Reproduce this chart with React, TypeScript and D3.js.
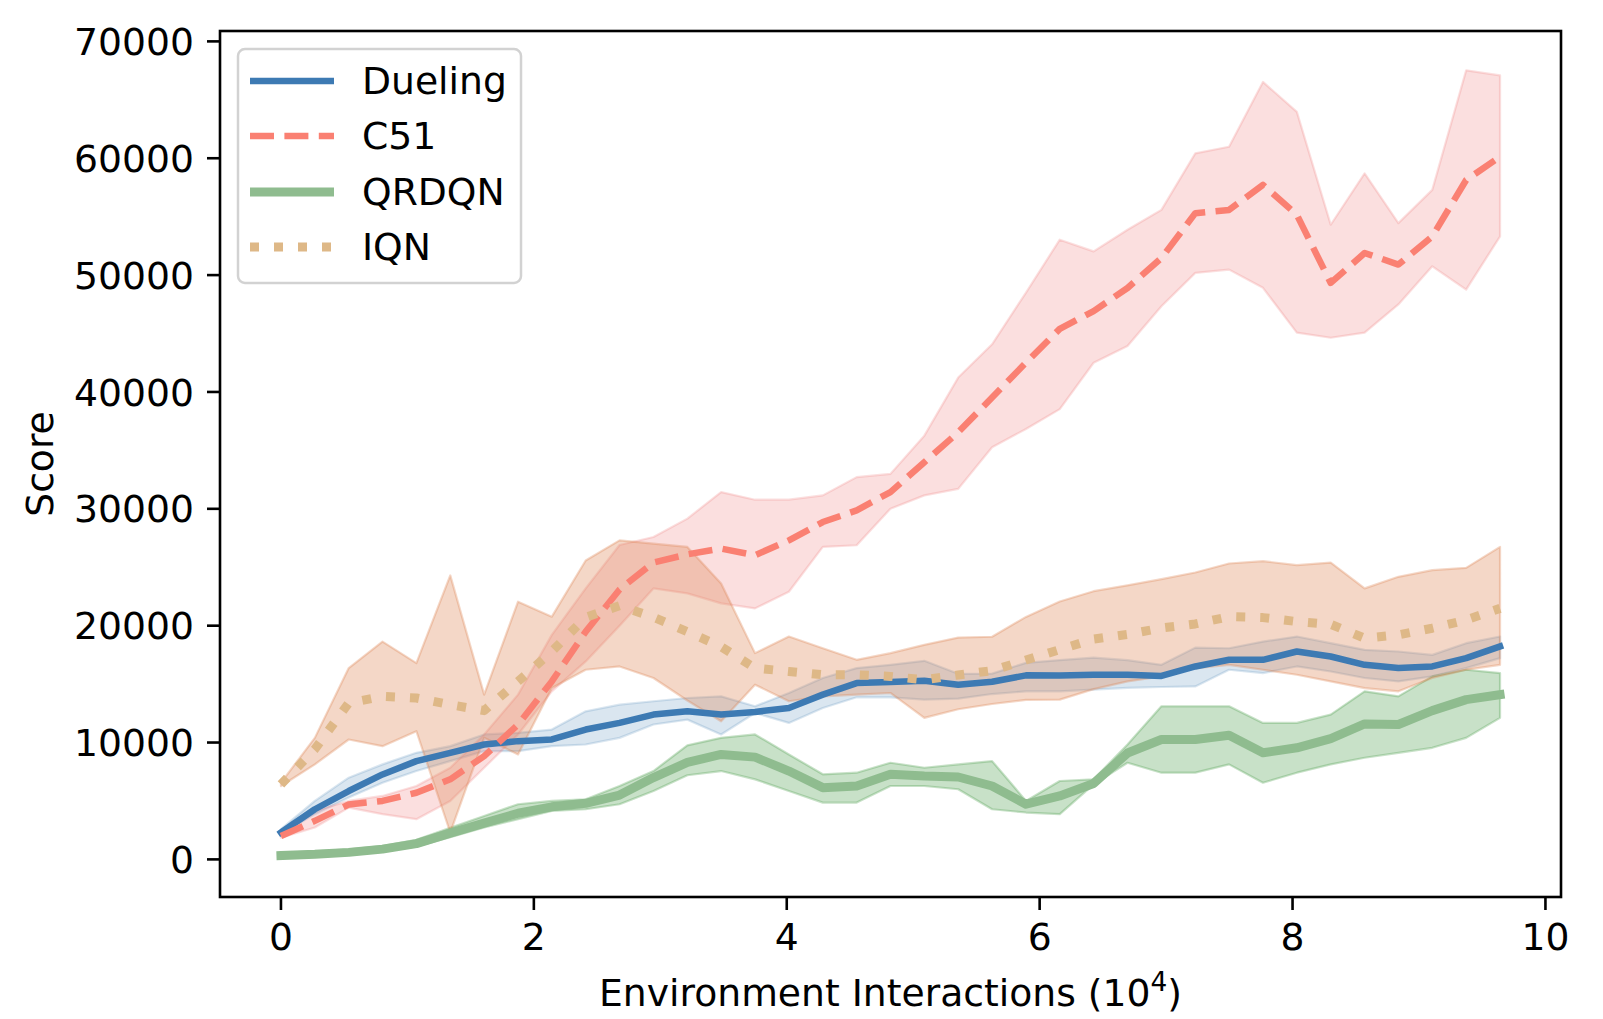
import React from "react";
import * as d3 from "d3";

// environment interactions, in units of 10^4
const steps = [
  0, 0.268, 0.536, 0.803, 1.071, 1.339, 1.607, 1.875, 2.142, 2.41, 2.678, 2.946, 3.214,
  3.481, 3.749, 4.017, 4.285, 4.553, 4.82, 5.088, 5.356, 5.624, 5.892, 6.159, 6.427,
  6.695, 6.963, 7.231, 7.498, 7.766, 8.034, 8.302, 8.57, 8.837, 9.105, 9.373, 9.641,
];

const duelingMean = [
  2300, 4290, 5850, 7270, 8410, 9120, 9830, 10120, 10260, 11110, 11680, 12390, 12670,
  12390, 12620, 12960, 14100, 15090, 15180, 15290, 14950, 15200, 15750, 15740, 15800,
  15800, 15700, 16510, 17080, 17080, 17790, 17360, 16650, 16370, 16510, 17220, 18220,
];
const duelingUpper = [
  2590, 5000, 6990, 8130, 9120, 9690, 10690, 10830, 11110, 12670, 13240, 13530, 13810,
  13950, 13100, 14240, 15520, 16370, 16650, 16990, 15880, 15900, 16820, 17060, 17260,
  17050, 16650, 18120, 18070, 18640, 19070, 18500, 17930, 17790, 17500, 18500, 19070,
];
const duelingLower = [
  2160, 3870, 5290, 6560, 7560, 8410, 9260, 9260, 9690, 9830, 10400, 11540, 11960,
  10690, 12530, 11680, 12960, 13870, 13870, 13670, 13750, 14150, 14380, 14380, 14530,
  14680, 14750, 14800, 16230, 15940, 16510, 16080, 15520, 15230, 15660, 16370, 17220,
];

const c51Mean = [
  2000, 3300, 4700, 5000, 5700, 6850, 8840, 11540, 15230, 19490, 23100, 25400, 26100,
  26600, 26030, 27300, 28870, 29870, 31430, 33990, 36550, 39530, 42510, 45400, 46920,
  48900, 51460, 55300, 55580, 57720, 55160, 49330, 51890, 50900, 53310, 58140, 60130,
];
const c51Upper = [
  2300, 4150, 5000, 5430, 6280, 7840, 10690, 14100, 19210, 23190, 26900, 27590, 29160,
  31430, 30780, 30780, 31150, 32710, 32990, 36260, 41230, 44080, 48500, 53030, 52030,
  53880, 55580, 60420, 60980, 66530, 63970, 54310, 58710, 54450, 57290, 67520, 67090,
];
const c51Lower = [
  1850, 2730, 4430, 3870, 3440, 5000, 7840, 10690, 14380, 16940, 20000, 23190, 22760,
  21910, 21480, 22900, 26740, 26880, 30010, 31150, 31710, 35270, 36830, 38530, 42500,
  43930, 47340, 50190, 50470, 48910, 45070, 44640, 45070, 47490, 50750, 48760, 53310,
];

const qrdqnMean = [
  330, 430, 600, 880, 1350, 2250, 3100, 3950, 4500, 4800, 5500, 7000, 8300, 8980, 8750,
  7560, 6140, 6280, 7280, 7130, 7050, 6280, 4720, 5430, 6500, 9100, 10260, 10260, 10630,
  9120, 9550, 10340, 11590, 11540, 12730, 13670, 14100,
];
const qrdqnUpper = [
  560, 680, 850, 1130, 1680, 2700, 3720, 4720, 5000, 5140, 6280, 7560, 9760, 10400,
  10690, 8980, 7280, 7420, 8270, 7840, 8130, 8410, 5000, 6710, 6850, 9830, 13100, 13100,
  13100, 11680, 11680, 12390, 14380, 13950, 15660, 16230, 15940,
];
const qrdqnLower = [
  150, 250, 400, 680, 1100, 1900, 2730, 3440, 4150, 4290, 4720, 5850, 7200, 7560, 6850,
  5850, 4860, 4860, 6280, 6280, 6000, 4290, 4010, 3870, 6420, 8270, 7420, 7420, 8130,
  6560, 7420, 8130, 8700, 9120, 9550, 10400, 12110,
];

const iqnMean = [
  6420, 9430, 13380, 13950, 13810, 13240, 12730, 15230, 17790, 20720, 21710, 20720,
  19490, 18200, 16370, 16080, 15800, 15800, 15660, 15370, 15780, 16150, 17060, 17950,
  18850, 19250, 19800, 20150, 20770, 20690, 20350, 20120, 18930, 19210, 19780, 20490,
  21480,
];
const iqnUpper = [
  6560, 10400, 16370, 18640, 16800, 24300, 14100, 22050, 20770, 25580, 27300, 27020,
  26740, 23600, 17650, 19070, 18070, 17080, 17650, 18360, 18980, 19050, 20750, 22070,
  22950, 23450, 23980, 24550, 25320, 25520, 25180, 25400, 23190, 24180, 24750, 24950,
  26740,
];
const iqnLower = [
  6280, 8130, 10260, 9690, 10970, 2300, 10400, 8980, 14660, 16230, 16510, 15520, 13600,
  11820, 14950, 13530, 13950, 14100, 14240, 12110, 12850, 13300, 13650, 13670, 14570,
  15230, 15650, 16370, 16650, 16230, 15800, 15230, 14660, 14380, 15520, 16230, 16650,
];

const xTicks = [0, 2, 4, 6, 8, 10];
const yTicks = [0, 10000, 20000, 30000, 40000, 50000, 60000, 70000];

const series = [
  {
    name: "Dueling", mean: duelingMean, lower: duelingLower, upper: duelingUpper,
    color: "#3d7ab3", fill: "#4682b4", fillOpacity: 0.2, width: 6.5, dash: null,
  },
  {
    name: "C51", mean: c51Mean, lower: c51Lower, upper: c51Upper,
    color: "#fa8072", fill: "#f08080", fillOpacity: 0.25, width: 6.5, dash: "24 10.4",
  },
  {
    name: "QRDQN", mean: qrdqnMean, lower: qrdqnLower, upper: qrdqnUpper,
    color: "#8fbc8f", fill: "#4a9a4a", fillOpacity: 0.3, width: 9, dash: null,
  },
  {
    name: "IQN", mean: iqnMean, lower: iqnLower, upper: iqnUpper,
    color: "#deb887", fill: "#dd8452", fillOpacity: 0.32, width: 9, dash: "9 15",
  },
];

const FONT = "DejaVu Sans, Verdana, sans-serif";
const FS = 37.7;

export default function App() {
  const W = 1603;
  const H = 1019;
  const box = {left: 220, right: 1561, top: 31, bottom: 897};

  // matplotlib-style 5% margins around the data
  const [x0, x1] = d3.extent(steps);
  const xPad = (x1 - x0) * 0.05;
  const allY = series.flatMap((s) => [...s.lower, ...s.upper, ...s.mean]);
  const [y0, y1] = d3.extent(allY);
  const yPad = (y1 - y0) * 0.05;

  const xScale = d3.scaleLinear().domain([x0 - xPad, x1 + xPad]).range([box.left, box.right]);
  const yScale = d3.scaleLinear().domain([y0 - yPad, y1 + yPad]).range([box.bottom, box.top]);

  const line = (vals) =>
    d3.line().x((_, i) => xScale(steps[i])).y((d) => yScale(d))(vals);
  const band = (lo, hi) =>
    d3
      .area()
      .x((_, i) => xScale(steps[i]))
      .y0((_, i) => yScale(lo[i]))
      .y1((d) => yScale(d))(hi);

  const tickLen = 13;
  const pad = 13;
  const legendRows = [81, 136, 192, 247];

  return (
    <svg
      width={W}
      height={H}
      style={{position: "absolute", left: 0, top: 0, background: "#fff"}}
      fontFamily={FONT}
    >
      <rect x={0} y={0} width={W} height={H} fill="#fff" />

      {/* bands */}
      {series.map((s) => (
        <path
          key={s.name + "-band"}
          d={band(s.lower, s.upper)}
          fill={s.fill}
          fillOpacity={s.fillOpacity}
          stroke={s.fill}
          strokeOpacity={s.fillOpacity}
          strokeWidth={2.2}
          strokeLinejoin="round"
        />
      ))}

      {/* mean lines */}
      {series.map((s) => (
        <path
          key={s.name + "-line"}
          d={line(s.mean)}
          fill="none"
          stroke={s.color}
          strokeWidth={s.width}
          strokeDasharray={s.dash || undefined}
          strokeLinecap={s.dash ? "butt" : "square"}
          strokeLinejoin="round"
        />
      ))}

      {/* spines */}
      <rect
        x={box.left}
        y={box.top}
        width={box.right - box.left}
        height={box.bottom - box.top}
        fill="none"
        stroke="#000"
        strokeWidth={2.6}
      />

      {/* x axis */}
      {xTicks.map((t) => (
        <g key={"x" + t}>
          <line
            x1={xScale(t)}
            x2={xScale(t)}
            y1={box.bottom}
            y2={box.bottom + tickLen}
            stroke="#000"
            strokeWidth={2.6}
          />
          <text
            x={xScale(t)}
            y={box.bottom + tickLen + pad + FS * 0.729}
            textAnchor="middle"
            fontSize={FS}
            fill="#000"
          >
            {t}
          </text>
        </g>
      ))}

      {/* y axis */}
      {yTicks.map((t) => (
        <g key={"y" + t}>
          <line
            x1={box.left - tickLen}
            x2={box.left}
            y1={yScale(t)}
            y2={yScale(t)}
            stroke="#000"
            strokeWidth={2.6}
          />
          <text
            x={box.left - tickLen - pad}
            y={yScale(t)}
            dy="0.36em"
            textAnchor="end"
            fontSize={FS}
            fill="#000"
          >
            {t}
          </text>
        </g>
      ))}

      {/* axis labels */}
      <text
        x={(box.left + box.right) / 2}
        y={1006}
        textAnchor="middle"
        fontSize={FS}
        fill="#000"
      >
        Environment Interactions (10
        <tspan fontSize={FS * 0.7} dy={-15}>4</tspan>
        <tspan dy={15}>)</tspan>
      </text>
      <text
        transform={`translate(53,${(box.top + box.bottom) / 2}) rotate(-90)`}
        textAnchor="middle"
        fontSize={FS}
        fill="#000"
      >
        Score
      </text>

      {/* legend */}
      <rect
        x={238}
        y={49}
        width={283}
        height={234}
        rx={7}
        fill="#fff"
        fillOpacity={0.8}
        stroke="#d2d2d2"
        strokeWidth={2.5}
      />
      {series.map((s, i) => (
        <g key={s.name + "-legend"}>
          <line
            x1={250}
            x2={334}
            y1={legendRows[i]}
            y2={legendRows[i]}
            stroke={s.color}
            strokeWidth={s.width}
            strokeDasharray={s.dash || undefined}
            strokeLinecap="butt"
          />
          <text x={362} y={legendRows[i]} dy="0.35em" fontSize={FS} fill="#000">
            {s.name}
          </text>
        </g>
      ))}
    </svg>
  );
}
